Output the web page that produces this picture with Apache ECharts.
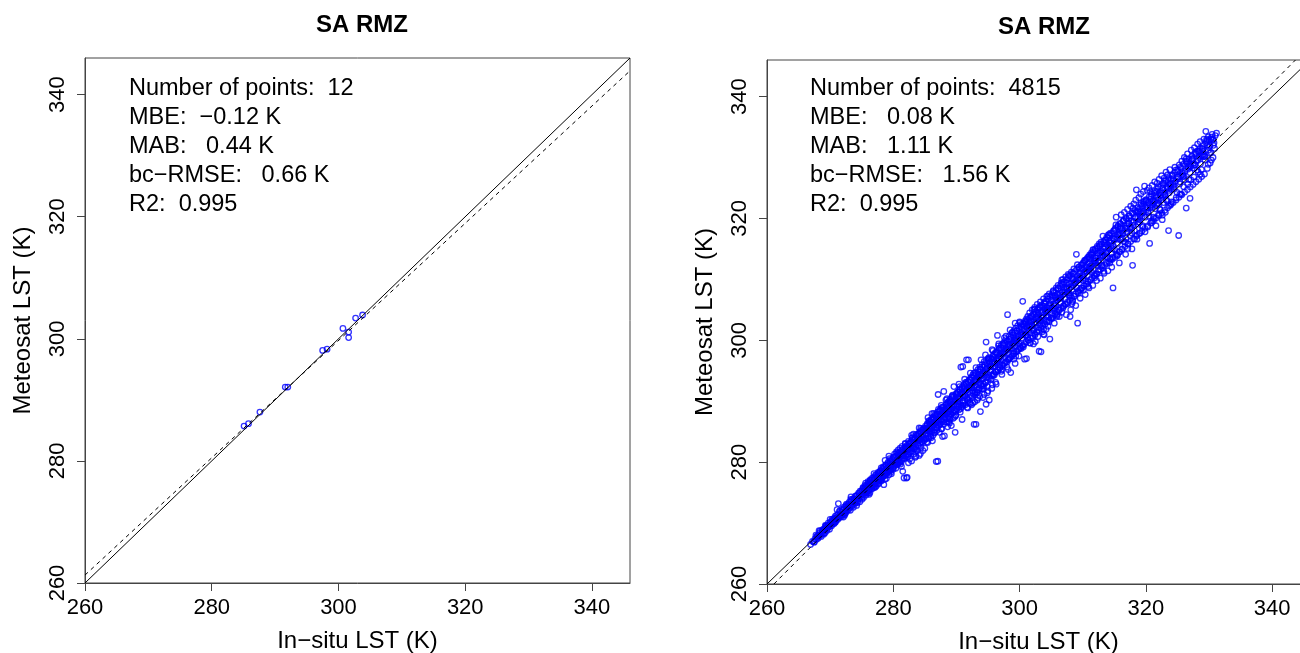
<!DOCTYPE html>
<html>
<head>
<meta charset="utf-8">
<script src="https://cdn.jsdelivr.net/npm/echarts@6/dist/echarts.min.js"></script>
</head>
<body style="margin:0;background:#fff">
<div id="main" style="width:1300px;height:653px;"></div>
<script type="text/javascript">
// axis range and tick labels (both panels)
var axisMin = 260, axisMax = 346;
var tickValues = [260, 280, 300, 320, 340];

// left panel: 12 matchups [in-situ, Meteosat]
var leftPoints = [
    [285.1, 285.7], [285.8, 286.1], [287.6, 288.0], [291.6, 292.1],
    [292.0, 292.1], [297.5, 298.1], [298.2, 298.3], [300.7, 301.7],
    [301.6, 301.1], [301.6, 300.2], [302.7, 303.4], [303.8, 303.9]
];
var leftStats = ['Number of points:  12', 'MBE:  \u22120.12 K', 'MAB:   0.44 K', 'bc\u2212RMSE:   0.66 K', 'R2:  0.995'];
var leftFit = [[260, 261.3], [346, 343.9]];

var rightCold = [
    [266.9,266.5],[267.2,267.0],[267.4,266.9],[267.6,267.4],[267.8,267.3],[268.0,267.9],[268.1,267.5],[268.3,268.0],
    [268.5,268.2],[268.6,267.8],[268.8,268.6],[268.9,268.3],[269.1,268.9],[269.2,268.4],[269.4,269.3],[269.5,268.8],
    [269.6,269.2],[269.8,269.6],[269.9,269.0],[270.0,270.1],[269.3,269.5],[268.4,268.7],[267.9,267.8],[269.7,270.0],
    [270.2,269.8],[270.3,270.6],[270.5,270.2],[270.6,269.9],[270.8,271.1],[270.9,270.4],[271.0,270.9],[271.2,270.6],
    [271.3,273.2],[271.4,271.0],[271.5,271.9],[271.6,271.2],[271.8,271.4],[271.9,272.3],[272.0,271.5],[272.1,271.0],
    [272.2,272.6],[272.4,272.0],[272.5,271.7],[272.6,273.1],[272.7,272.4],[272.9,272.2],[273.0,273.4],[273.1,272.8],
    [273.2,272.1],[273.4,273.0],[273.5,273.9],[273.6,273.2],[273.7,272.6],[273.9,273.5],[274.0,274.4],[274.1,273.7],
    [274.2,272.9],[274.4,274.0],[274.5,274.9],[274.6,274.2],[274.7,273.5],[274.9,274.6],[275.0,275.3],[271.1,272.2],
    [272.3,271.3],[273.3,274.3],[274.3,273.3],[270.7,270.5],[272.8,272.9],
    [275.1,274.7],[275.2,275.8],[275.3,274.2],[275.4,275.3],[275.5,276.2],[275.6,275.0],[275.7,274.6],[275.8,276.0],
    [275.9,275.5],[276.0,276.8],[276.1,275.3],[276.2,276.1],[276.3,275.0],[276.4,277.0],[276.5,276.2],[276.6,275.6],
    [276.7,277.4],[276.8,276.5],[276.9,275.8],[277.0,277.2],[277.1,276.4],[277.2,277.9],[277.3,276.1],[277.4,277.5],
    [277.5,276.9],[277.6,278.3],[277.7,276.5],[277.8,277.8],[277.9,277.2],[278.0,278.6],[278.1,276.9],[278.2,278.0],
    [278.3,277.5],[278.4,279.2],[278.5,276.3],[278.6,278.4],[278.7,277.8],[278.8,279.5],[278.9,277.3],[279.0,279.0],
    [279.1,278.4],[279.2,280.0],[279.3,277.9],[279.4,279.3],[279.5,278.6],[279.6,280.4],[279.7,278.1],[279.8,279.7],
    [279.9,279.0],[280.0,280.8],[275.5,275.6],[276.2,276.6],[276.9,277.0],[277.6,277.3],[278.3,278.5],[279.0,278.6],
    [279.6,279.5],[277.0,275.9],[278.0,277.0],[276.0,274.9],[279.3,281.0],[278.7,280.3]
];
var rightMild = [
    [280.1,279.4],[280.2,281.3],[280.3,280.1],[280.4,279.0],[280.5,281.7],[280.6,280.5],[280.7,279.6],[280.8,282.0],
    [280.9,280.8],[281.0,279.9],[281.1,282.3],[281.2,281.0],[281.3,280.1],[281.4,282.6],[281.5,278.5],[281.6,281.4],
    [281.7,277.4],[281.8,280.6],[281.9,283.0],[282.0,281.8],[282.1,277.4],[282.2,277.5],[282.3,280.9],[282.4,283.4],
    [282.5,282.1],[282.6,280.5],[282.7,283.1],[282.8,281.7],[282.9,280.2],[283.0,284.0],[283.1,282.6],[283.2,281.3],
    [283.3,283.7],[283.4,282.2],[283.5,280.8],[283.6,284.5],[283.7,283.2],[283.8,281.9],[283.9,284.1],[284.0,282.7],
    [284.1,281.1],[284.2,285.0],[284.3,283.8],[284.4,282.4],[284.5,285.3],[284.6,284.0],[284.7,281.9],[284.8,285.5],
    [284.9,283.5],[285.0,282.3],[280.5,280.0],[281.0,281.2],[281.5,281.7],[282.0,282.4],[282.5,282.9],[283.0,283.3],
    [283.5,283.8],[284.0,284.6],[284.5,284.3],[281.3,279.3],[282.4,279.9],[283.6,281.0],[284.3,281.4],[280.8,281.4],
    [281.9,282.2],[283.2,284.6],[284.1,285.6],[282.9,284.4],
    [285.1,285.9],[285.2,284.6],[285.3,283.3],[285.4,286.3],[285.5,285.1],[285.6,283.9],[285.7,286.7],[285.8,285.4],
    [285.9,284.2],[286.0,287.0],[286.1,285.9],[286.2,283.5],[286.3,287.4],[286.4,286.1],[286.5,284.8],[286.6,287.8],
    [286.7,286.4],[286.8,280.1],[286.9,285.2],[287.0,288.2],[287.1,291.1],[287.2,286.6],[287.3,284.9],[287.4,288.6],
    [287.5,287.0],[287.6,285.5],[287.7,289.0],[287.8,284.2],[287.9,287.5],[288.0,291.6],[288.1,284.3],[288.2,288.4],
    [288.3,286.6],[288.4,289.5],[288.5,287.9],[288.6,285.8],[288.7,289.9],[288.8,288.3],[288.9,286.4],[289.0,290.3],
    [289.1,288.7],[289.2,286.0],[289.3,290.7],[289.4,289.1],[289.5,287.2],[289.6,292.4],[289.7,289.5],[289.8,284.9],
    [289.9,287.7],[290.0,290.9],[285.3,285.4],[285.8,286.1],[286.3,286.5],[286.8,286.9],[287.3,287.5],[287.8,288.0],
    [288.3,288.5],[288.8,289.0],[289.3,289.4],[289.8,290.0],[285.5,287.3],[286.4,288.0],[287.6,289.3],[288.5,290.4],
    [289.4,291.0],[286.0,284.0],[287.0,285.6],[288.0,286.2],[289.0,287.0],[289.9,288.3],[285.9,286.6],[287.4,286.3],
    [288.9,288.2],[287.05,280.15],
    [290.1,289.2],[290.2,291.5],[290.3,290.4],[290.4,288.6],[290.5,291.9],[290.6,290.7],[290.7,295.6],[290.8,289.1],
    [290.9,292.3],[291.0,295.7],[291.1,290.0],[291.2,292.7],[291.3,291.5],[291.4,289.4],[291.5,293.1],[291.6,296.8],
    [291.7,291.9],[291.8,290.1],[291.9,296.8],[292.0,293.5],[292.1,292.3],[292.2,289.6],[292.3,293.9],[292.4,292.6],
    [292.5,290.8],[292.6,294.3],[292.7,293.0],[292.8,286.2],[292.9,291.3],[293.0,294.7],[293.1,286.2],[293.2,293.4],
    [293.3,291.4],[293.4,295.2],[293.5,293.8],[293.6,291.9],[293.7,295.6],[293.8,288.3],[293.9,294.2],[294.0,292.0],
    [294.1,296.0],[294.2,294.6],[294.3,292.5],[294.4,296.5],[294.5,294.9],[294.6,293.0],[294.7,299.7],[294.8,295.3],
    [294.9,292.4],[295.0,297.0],[290.5,290.6],[291.0,291.1],[291.5,291.7],[292.0,292.2],[292.5,292.7],[293.0,293.2],
    [293.5,293.6],[294.0,294.2],[294.5,294.7],[290.9,287.0],[291.7,289.0],[292.6,289.7],[293.3,290.2],[294.2,290.6],
    [294.7,289.5],[290.4,292.8],[291.3,293.6],[292.2,294.6],[293.1,295.5],[293.9,296.8],[294.6,297.6],[290.0,291.3],
    [292.9,292.6],[293.6,294.4]
];
var rightWarm = [
    [295.1,294.0],[295.2,290.2],[295.3,296.4],[295.4,295.2],[295.5,293.6],[295.6,296.9],[295.7,292.7],[295.8,295.7],
    [295.9,297.6],[296.0,294.3],[296.1,296.2],[296.2,298.0],[296.3,294.8],[296.4,296.6],[296.5,300.8],[296.6,295.1],
    [296.7,297.0],[296.8,298.7],[296.9,295.5],[297.0,297.4],[297.1,299.2],[297.2,294.4],[297.3,297.8],[297.4,295.9],
    [297.5,299.6],[297.6,298.1],[297.7,296.3],[297.8,300.1],[297.9,298.5],[298.0,295.6],[298.1,304.2],[298.2,298.9],
    [298.3,296.9],[298.4,300.7],[298.5,299.2],[298.6,294.7],[298.7,297.3],[298.8,301.2],[298.9,299.6],[299.0,297.8],
    [299.1,301.6],[299.2,300.0],[299.3,296.2],[299.4,302.0],[299.5,300.3],[299.6,298.2],[299.7,302.4],[299.8,300.7],
    [299.9,298.6],[300.0,303.0],[295.5,295.8],[296.0,296.3],[296.5,296.8],[297.0,297.3],[297.5,297.7],[298.0,298.4],
    [298.5,298.7],[299.0,299.3],[299.5,299.8],[295.8,298.3],[296.7,299.4],[297.6,300.4],[298.5,301.7],[299.3,302.8],
    [296.2,293.1],[297.1,294.9],[298.2,295.2],[299.1,296.9],[299.9,297.4],
    [300.1,299.0],[300.2,301.3],[300.3,302.6],[300.4,300.4],[300.5,306.4],[300.6,298.9],[300.7,301.8],[300.8,296.9],
    [300.9,303.2],[301.0,300.8],[301.1,297.0],[301.2,302.2],[301.3,303.9],[301.4,300.0],[301.5,302.6],[301.6,304.5],
    [301.7,299.5],[301.8,303.0],[301.9,301.2],[302.0,305.0],[302.1,300.4],[302.2,303.4],[302.3,301.7],[302.4,305.4],
    [302.5,299.8],[302.6,303.8],[302.7,302.1],[302.8,305.9],[302.9,300.6],[303.0,304.2],[303.1,298.2],[303.2,302.5],
    [303.3,306.3],[303.4,298.1],[303.5,304.6],[303.6,301.4],[303.7,302.9],[303.8,306.8],[303.9,300.9],[304.0,305.0],
    [304.1,303.3],[304.2,301.8],[304.3,307.2],[304.4,305.4],[304.5,302.3],[304.6,303.8],[304.7,307.6],[304.8,300.2],
    [304.9,305.8],[305.0,304.2],[300.5,300.9],[301.5,301.7],[302.5,302.8],[303.5,303.7],[304.5,304.8],[301.0,302.9],
    [302.0,303.9],[303.0,305.3],[304.0,306.2],[302.2,299.4],[303.8,301.0],
    [305.1,306.6],[305.2,303.6],[305.3,308.0],[305.4,305.2],[305.5,302.8],[305.6,307.2],[305.7,305.6],[305.8,308.6],
    [305.9,304.1],[306.0,306.6],[306.1,309.0],[306.2,305.0],[306.3,303.9],[306.4,307.5],[306.5,306.1],[306.6,309.4],
    [306.7,304.6],[306.8,307.9],[306.9,310.0],[307.0,305.7],[307.1,308.3],[307.2,306.8],[307.3,310.4],[307.4,304.2],
    [307.5,308.7],[307.6,306.0],[307.7,310.8],[307.8,307.4],[307.9,309.2],[308.0,303.9],[308.1,305.0],[308.2,311.2],
    [308.3,308.3],[308.4,306.6],[308.5,310.0],[308.6,311.7],[308.7,307.2],[308.8,309.5],[308.9,305.7],[309.0,314.1],
    [309.1,310.5],[309.2,302.8],[309.3,308.1],[309.4,312.0],[309.5,309.9],[309.6,306.9],[309.7,311.3],[309.8,308.6],
    [309.9,312.4],[310.0,310.6],[305.5,305.9],[306.5,307.0],[307.5,307.9],[308.5,309.0],[309.5,310.3],[306.0,304.3],
    [308.3,306.0]
];
var rightHot = [
    [310.1,308.2],[310.2,312.8],[310.3,310.9],[310.4,307.5],[310.5,313.2],[310.6,311.4],[310.7,309.2],[310.8,313.6],
    [310.9,311.8],[311.0,308.6],[311.1,314.0],[311.2,312.2],[311.3,310.0],[311.4,314.4],[311.5,312.6],[311.6,309.0],
    [311.7,314.8],[311.8,313.1],[311.9,310.8],[312.0,315.0],[312.1,313.5],[312.2,309.8],[312.3,315.4],[312.4,313.9],
    [312.5,311.6],[312.6,315.8],[312.7,314.3],[312.8,310.2],[312.9,316.1],[313.0,314.6],[313.1,312.3],[313.2,317.1],
    [313.3,315.0],[313.4,311.0],[313.5,316.4],[313.6,315.3],[313.7,312.8],[313.8,316.9],[313.9,315.7],[314.0,311.4],
    [314.1,317.3],[314.2,316.0],[314.3,313.4],[314.4,317.6],[314.5,316.4],[314.6,312.0],[314.7,315.0],[314.8,308.6],
    [314.9,318.0],[315.0,316.6],[311.0,311.9],[312.0,313.0],[313.0,313.8],[314.0,315.2],
    [315.1,313.6],[315.2,318.4],[315.3,320.2],[315.4,316.9],[315.5,314.0],[315.6,318.8],[315.7,317.2],[315.8,312.7],
    [315.9,319.2],[316.0,317.6],[316.1,320.6],[316.2,314.9],[316.3,318.0],[316.4,319.6],[316.5,316.2],[316.6,321.0],
    [316.7,318.4],[316.8,314.1],[316.9,320.0],[317.0,318.8],[317.1,321.5],[317.2,315.8],[317.3,319.2],[317.4,320.4],
    [317.5,317.2],[317.6,322.0],[317.7,319.6],[317.8,315.0],[317.9,312.3],[318.0,320.8],[318.1,322.4],[318.2,318.0],
    [318.3,320.2],[318.4,323.0],[318.5,324.7],[318.6,316.6],[318.7,321.2],[318.8,319.4],[318.9,323.4],[319.0,321.6],
    [319.1,317.6],[319.2,324.0],[319.3,320.8],[319.4,322.0],[319.5,318.6],[319.6,324.4],[319.7,322.4],[319.8,325.3],
    [319.9,320.2],[320.0,323.0],[316.0,316.5],[317.0,317.8],[318.0,318.9],[319.0,319.8],
    [320.1,321.4],[320.2,324.6],[320.3,318.6],[320.4,322.6],[320.5,325.0],[320.6,315.9],[320.7,321.8],[320.8,323.6],
    [320.9,319.6],[321.0,325.4],[321.1,322.4],[321.2,320.2],[321.3,324.2],[321.4,326.0],[321.5,321.6],[321.6,318.8],
    [321.7,323.4],[321.8,325.8],[321.9,322.6],[322.0,320.6],[322.1,326.4],[322.2,324.2],[322.3,321.4],[322.4,323.0],
    [322.5,327.0],[322.6,319.8],[322.7,325.0],[322.8,322.6],[322.9,326.6],[323.0,324.0],[323.1,321.0],[323.2,327.6],
    [323.3,325.2],[323.4,322.8],[323.5,326.4],[323.6,318.0],[323.7,324.6],[323.8,328.0],[323.9,325.6],[324.0,322.4],
    [324.2,327.0],[324.4,325.2],[324.6,328.4],[324.8,323.4],[325.0,326.8],[321.0,321.8],[322.0,323.0],[323.0,323.8],
    [324.0,324.8],
    [325.2,317.2],[325.3,328.8],[325.4,326.0],[325.6,324.0],[325.7,329.4],[325.8,327.2],[326.0,325.2],[326.1,330.0],
    [326.2,327.8],[326.4,321.7],[326.5,329.0],[326.6,330.6],[326.8,326.4],[327.0,323.3],[327.1,328.6],[327.2,331.2],
    [327.4,329.8],[327.6,326.8],[327.7,331.6],[327.8,328.8],[328.0,330.6],[328.2,332.2],[328.3,327.6],[328.5,331.0],
    [328.6,332.6],[328.8,328.0],[329.0,331.4],[329.2,333.0],[329.3,330.2],[329.5,334.3],[329.7,332.0],[329.9,333.4],
    [330.1,330.7],[330.3,333.0],[330.5,333.8],[330.8,332.4],[331.0,333.6],[331.2,334.0],[326.9,329.0],[328.9,330.4]
];
// dense core of the cloud, where the circles overlap into solid blue
var rightCore = [
    [268.15,267.72],[268.37,268.41],[268.72,268.35],[268.94,269.02],[269.23,268.77],[269.41,269.58],[269.67,269.31],[269.88,269.71],
    [270.04,269.52],[270.26,270.33],[270.41,269.94],[270.63,270.78],[270.85,270.17],[271.07,270.72],[271.22,271.41],[271.48,270.86],
    [271.66,271.79],[271.83,271.07],[272.06,272.18],[272.28,271.64],[272.47,272.71],[272.69,272.03],[272.91,273.12],[273.08,272.49],
    [273.29,273.58],[273.52,272.91],[273.74,274.05],[273.96,273.27],[274.18,274.49],[274.35,273.62],[274.57,274.83],[274.79,274.11],
    [274.98,275.27],
    [275.14,274.38],[275.31,275.62],[275.47,274.91],[275.66,276.12],[275.82,275.13],[275.97,276.48],[276.13,275.41],[276.29,276.83],
    [276.44,275.92],[276.61,277.10],[276.78,276.07],[276.93,277.46],[277.09,276.52],[277.24,277.81],[277.42,276.63],[277.58,278.04],
    [277.73,277.12],[277.91,278.47],[278.06,277.38],[278.22,278.79],[278.39,277.72],[278.55,279.11],[278.71,277.91],[278.88,279.37],
    [279.03,278.26],[279.19,279.84],[279.36,278.55],[279.52,280.09],[279.68,278.82],[279.84,280.41],[280.01,279.14],[280.17,280.86],
    [280.33,279.51],[280.49,281.03],[280.66,279.77],[280.82,281.42],[280.97,280.08],[281.14,281.69],[281.31,280.36],[281.46,282.02],
    [281.62,280.64],[281.79,282.37],[281.95,281.03],[282.11,282.71],[282.27,281.22],[282.44,282.96],[282.60,281.58],[282.76,283.31],
    [282.93,281.84],[283.09,283.70],[283.25,282.19],[283.41,283.96],[283.58,282.47],[283.74,284.28],[283.90,282.81],[284.06,284.67],
    [284.23,283.12],[284.39,284.94],[284.55,283.37],[284.71,285.31],[284.88,283.71],
    [275.9,275.7],[276.7,276.6],[277.5,277.2],[278.3,278.2],[279.1,279.0],[279.9,279.6],[280.7,280.5],[281.5,281.1],
    [282.3,282.0],[283.1,282.8],[283.9,283.5],[284.7,284.4],[276.35,276.2],[277.85,277.6],[279.45,279.3],[280.95,280.8],
    [282.55,282.3],[284.15,283.9],
    [285.07,285.62],[285.23,283.89],[285.38,286.14],[285.54,284.35],[285.71,286.47],[285.86,284.61],[286.02,286.93],[286.18,285.02],
    [286.35,287.21],[286.50,285.33],[286.66,287.62],[286.83,285.71],[286.99,287.90],[287.15,285.98],[287.31,288.37],[287.47,286.25],
    [287.64,288.61],[287.80,286.64],[287.96,289.02],[288.12,286.97],[288.28,289.33],[288.45,287.18],[288.61,289.72],[288.77,287.55],
    [288.93,290.04],[289.09,287.86],[289.26,290.41],[289.42,288.13],[289.58,290.77],[289.74,288.49],[289.90,291.08],[290.07,288.71],
    [290.23,291.46],[290.39,289.10],[290.55,291.80],[290.71,289.36],[290.88,292.11],[291.04,289.68],[291.20,292.52],[291.36,289.97],
    [291.52,292.83],[291.69,290.31],[291.85,293.17],[292.01,290.64],[292.17,293.52],[292.33,290.92],[292.50,293.86],[292.66,291.27],
    [292.82,294.18],[292.98,291.53],[293.14,294.55],[293.31,291.88],[293.47,294.87],[293.63,292.16],[293.79,295.21],[293.95,292.49],
    [294.12,295.58],[294.28,292.81],[294.44,295.90],[294.60,293.12],[294.77,296.24],[294.93,293.44],
    [285.4,285.3],[286.1,286.2],[286.8,286.6],[287.5,287.6],[288.2,288.0],[288.9,289.1],[289.6,289.4],[290.3,290.5],
    [291.0,290.8],[291.7,291.9],[292.4,292.2],[293.1,293.3],[293.8,293.6],[294.5,294.6],[285.75,285.0],[286.45,287.0],
    [287.15,286.9],[287.85,288.5],[288.55,288.1],[289.25,289.9],[289.95,289.5],[290.65,291.2],[291.35,290.9],[292.05,292.6],
    [292.75,292.3],[293.45,294.0],[294.15,293.7],[294.85,295.4],
    [291.8,288.9],[292.9,289.9],[293.7,290.8],[294.4,291.1],[295.0,291.7],[295.6,292.1],[296.3,292.8],[292.4,289.4],
    [293.4,290.5],[294.9,291.4],[290.6,288.2],[289.7,287.4],[288.8,286.6],
    [295.09,296.62],[295.25,293.77],[295.41,297.01],[295.57,294.21],[295.74,297.35],[295.90,294.52],[296.06,297.72],[296.22,294.86],
    [296.38,298.03],[296.55,295.19],[296.71,298.44],[296.87,295.50],[297.03,298.76],[297.19,295.87],[297.36,299.13],[297.52,296.18],
    [297.68,299.45],[297.84,296.51],[298.00,299.84],[298.17,296.83],[298.33,300.15],[298.49,297.14],[298.65,300.52],[298.81,297.49],
    [298.98,300.84],[299.14,297.80],[299.30,301.21],[299.46,298.13],[299.62,301.53],[299.79,298.45],[299.95,301.92],[300.11,298.77],
    [300.27,302.23],[300.43,299.10],[300.60,302.61],[300.76,299.42],[300.92,302.94],[301.08,299.73],[301.24,303.31],[301.41,300.07],
    [301.57,303.62],[301.73,300.39],[301.89,304.01],[302.05,300.71],[302.22,304.33],[302.38,301.02],[302.54,304.70],[302.70,301.36],
    [302.86,305.02],[303.03,301.68],[303.19,305.39],[303.35,302.01],[303.51,305.71],[303.67,302.33],[303.84,306.08],[304.00,302.64],
    [304.16,306.41],[304.32,302.97],[304.48,306.77],[304.65,303.29],[304.81,307.10],[304.97,303.62],
    [295.3,295.6],[296.0,296.5],[296.7,297.0],[297.4,297.9],[298.1,298.4],[298.8,299.4],[299.5,299.9],[300.2,300.8],
    [300.9,301.3],[301.6,302.2],[302.3,302.7],[303.0,303.6],[303.7,304.1],[304.4,305.0],[295.65,296.2],[296.35,296.9],
    [297.05,297.8],[297.75,298.2],[298.45,299.2],[299.15,299.6],[299.85,300.7],[300.55,301.0],[301.25,302.0],[301.95,302.5],
    [302.65,303.5],[303.35,303.9],[304.05,304.9],[304.75,305.3],
    [305.13,307.48],[305.30,303.91],[305.46,307.82],[305.62,304.27],[305.79,308.19],[305.95,304.58],[306.11,308.51],[306.28,304.93],
    [306.44,308.88],[306.60,305.24],[306.77,309.20],[306.93,305.59],[307.09,309.57],[307.26,305.91],[307.42,309.90],[307.58,306.26],
    [307.75,310.26],[307.91,306.57],[308.07,310.59],[308.24,306.93],[308.40,310.96],[308.56,307.24],[308.73,311.28],[308.89,307.60],
    [309.05,311.65],[309.22,307.91],[309.38,311.97],[309.54,308.27],[309.71,312.34],[309.87,308.58],[310.03,312.66],[310.20,308.94],
    [310.36,313.03],[310.52,309.25],[310.69,313.35],[310.85,309.61],[311.01,313.72],[311.18,309.92],[311.34,314.04],[311.50,310.28],
    [311.67,314.41],[311.83,310.59],[311.99,314.73],[312.16,310.95],[312.32,315.10],[312.48,311.26],[312.65,315.42],[312.81,311.62],
    [312.97,315.79],[313.14,311.93],[313.30,316.11],[313.46,312.29],[313.63,316.48],[313.79,312.60],[313.95,316.80],[314.12,312.96],
    [314.28,317.17],[314.44,313.27],[314.61,317.49],[314.77,313.63],[314.93,317.86],
    [305.4,306.0],[306.1,306.9],[306.8,307.4],[307.5,308.4],[308.2,308.8],[308.9,309.8],[309.6,310.2],[310.3,311.2],
    [311.0,311.6],[311.7,312.6],[312.4,313.0],[313.1,314.0],[313.8,314.4],[314.5,315.4],[305.75,306.6],[306.45,307.2],
    [307.15,308.0],[307.85,308.5],[308.55,309.4],[309.25,309.9],[309.95,310.8],[310.65,311.3],[311.35,312.2],[312.05,312.7],
    [312.75,313.6],[313.45,314.1],[314.15,315.0],[314.85,315.5],
    [315.12,318.21],[315.34,314.12],[315.57,318.64],[315.79,314.53],[316.02,319.10],[316.24,314.97],[316.47,319.52],[316.69,315.38],
    [316.92,319.98],[317.14,315.82],[317.37,320.41],[317.59,316.23],[317.82,320.87],[318.04,316.67],[318.27,321.30],[318.49,317.08],
    [318.72,321.76],[318.94,317.52],[319.17,322.19],[319.39,317.93],[319.62,322.65],[319.84,318.37],[320.07,323.08],[320.29,318.78],
    [320.52,323.54],[320.74,319.22],[320.97,323.97],[321.19,319.63],[321.42,324.43],[321.64,320.07],[321.87,324.86],[322.09,320.48],
    [322.32,325.32],[322.54,320.92],[322.77,325.75],[322.99,321.33],[323.22,326.21],[323.44,321.77],[323.67,326.64],[323.89,322.18],
    [324.12,327.10],[324.34,322.62],[324.57,327.53],[324.79,323.03],[325.02,327.99],[325.24,323.47],[325.47,328.42],[325.69,323.88],
    [325.92,328.88],[326.14,324.32],[326.37,329.31],[326.59,324.73],[326.82,329.77],[327.04,325.17],[327.27,330.20],[327.49,325.58],
    [327.72,330.66],[327.94,326.02],[328.17,331.09],[328.39,326.43],[328.62,331.55],[328.84,326.87],[329.07,331.98],[329.29,327.28],
    [329.52,332.44],[329.74,328.20],[329.97,332.87],[330.19,329.10],[330.42,333.33],[330.64,330.00],
    [315.5,316.6],[316.3,317.6],[317.1,318.3],[317.9,319.3],[318.7,320.0],[319.5,320.9],[320.3,321.7],[321.1,322.6],
    [321.9,323.3],[322.7,324.2],[323.5,324.9],[324.3,325.8],[325.1,326.5],[325.9,327.4],[326.7,328.1],[327.5,329.0],
    [328.3,329.6],[329.1,330.5],[329.9,331.2],[330.7,332.0],[315.9,317.4],[317.5,318.6],[319.1,320.4],[320.7,322.1],
    [322.3,323.8],[323.9,325.3],[325.5,327.0],[327.1,328.5],[328.7,330.2]
];
// extra points filling the inside of the band
var rightFill = [
    [267.50,266.86],[267.75,268.01],[268.00,267.78],[268.25,268.75],[268.50,268.04],[268.75,268.83],[269.00,268.18],[269.25,269.63],
    [269.50,269.40],[269.75,269.41],[270.00,270.62],[270.25,269.55],[270.50,270.64],[270.75,270.11],[271.00,271.26],[271.25,271.03],
    [271.50,272.00],[271.75,271.29],[272.00,272.08],[272.25,271.43],[272.50,272.88],[272.75,272.65],[273.00,272.66],[273.25,273.87],
    [273.50,272.80],[273.75,273.89],[274.00,273.36],[274.25,274.51],[274.50,274.28],[274.75,275.25],
    [275.05,273.91],[275.24,275.75],[275.43,275.06],[275.62,276.57],[275.81,275.00],[276.00,276.18],[276.19,274.72],[276.38,277.11],
    [276.57,276.42],[276.76,276.17],[276.95,278.12],[277.14,275.89],[277.33,277.62],[277.52,276.38],[277.71,278.22],[277.90,277.53],
    [278.09,279.04],[278.28,277.47],[278.47,278.65],[278.66,277.19],[278.85,279.58],[279.04,278.89],[279.23,278.64],[279.42,280.59],
    [279.61,278.36],[279.80,280.09],[279.99,278.85],[280.18,280.69],[280.37,280.00],[280.56,281.51],[280.75,279.94],[280.94,281.12],
    [281.13,279.66],[281.32,282.05],[281.51,281.36],[281.70,281.11],[281.89,283.06],[282.08,280.83],[282.27,282.56],[282.46,281.32],
    [282.65,283.16],[282.84,282.47],[283.03,283.98],[283.22,282.41],[283.41,283.59],[283.60,282.13],[283.79,284.52],[283.98,283.83],
    [284.17,283.58],[284.36,285.53],[284.55,283.30],[284.74,285.03],[284.93,283.79],
    [285.11,283.89],[285.28,285.59],[285.45,283.21],[285.62,286.78],[285.79,285.59],[285.96,285.08],[286.13,287.97],[286.30,284.40],
    [286.47,286.95],[286.64,284.91],[286.81,287.63],[286.98,286.44],[287.15,288.65],[287.32,286.10],[287.49,287.80],[287.66,285.42],
    [287.83,288.99],[288.00,287.80],[288.17,287.29],[288.34,290.18],[288.51,286.61],[288.68,289.16],[288.85,287.12],[289.02,289.84],
    [289.19,288.65],[289.36,290.86],[289.53,288.31],[289.70,290.01],[289.87,287.63],[290.04,291.20],[290.21,290.01],[290.38,289.50],
    [290.55,292.39],[290.72,288.82],[290.89,291.37],[291.06,289.33],[291.23,292.05],[291.40,290.86],[291.57,293.07],[291.74,290.52],
    [291.91,292.22],[292.08,289.84],[292.25,293.41],[292.42,292.22],[292.59,291.71],[292.76,294.60],[292.93,291.03],[293.10,293.58],
    [293.27,291.54],[293.44,294.26],[293.61,293.07],[293.78,295.28],[293.95,292.73],[294.12,294.43],[294.29,292.05],[294.46,295.62],
    [294.63,294.43],[294.80,293.92],[294.97,296.81],
    [295.14,297.14],[295.31,295.71],[295.48,295.08],[295.65,298.45],[295.82,294.22],[295.99,297.19],[296.16,294.76],[296.33,297.93],
    [296.50,296.50],[296.67,299.07],[296.84,296.04],[297.01,298.01],[297.18,295.18],[297.35,299.35],[297.52,297.92],[297.69,297.29],
    [297.86,300.66],[298.03,296.43],[298.20,299.40],[298.37,296.97],[298.54,300.14],[298.71,298.71],[298.88,301.28],[299.05,298.25],
    [299.22,300.22],[299.39,297.39],[299.56,301.56],[299.73,300.13],[299.90,299.50],[300.07,302.87],[300.24,298.64],[300.41,301.61],
    [300.58,299.18],[300.75,302.35],[300.92,300.92],[301.09,303.49],[301.26,300.46],[301.43,302.43],[301.60,299.60],[301.77,303.77],
    [301.94,302.34],[302.11,301.71],[302.28,305.08],[302.45,300.85],[302.62,303.82],[302.79,301.39],[302.96,304.56],[303.13,303.13],
    [303.30,305.70],[303.47,302.67],[303.64,304.64],[303.81,301.81],[303.98,305.98],[304.15,304.55],[304.32,303.92],[304.49,307.29],
    [304.66,303.06],[304.83,306.03],[305.00,303.60],
    [305.17,305.33],[305.36,308.16],[305.55,304.83],[305.74,307.00],[305.93,303.89],[306.12,308.48],[306.31,306.91],[306.50,306.22],
    [306.69,309.93],[306.88,305.28],[307.07,308.55],[307.26,305.88],[307.45,309.37],[307.64,307.80],[307.83,310.63],[308.02,307.30],
    [308.21,309.47],[308.40,306.36],[308.59,310.95],[308.78,309.38],[308.97,308.69],[309.16,312.40],[309.35,307.75],[309.54,311.02],
    [309.73,308.35],[309.92,311.84],[310.11,310.27],[310.30,313.10],[310.49,309.77],[310.68,311.94],[310.87,308.83],[311.06,313.42],
    [311.25,311.85],[311.44,311.16],[311.63,314.87],[311.82,310.22],[312.01,313.49],[312.20,310.82],[312.39,314.31],[312.58,312.74],
    [312.77,315.57],[312.96,312.24],[313.15,314.41],[313.34,311.30],[313.53,315.89],[313.72,314.32],[313.91,313.63],[314.10,317.34],
    [314.29,312.69],[314.48,315.96],[314.67,313.29],[314.86,316.78],
    [315.05,314.89],[315.26,318.94],[315.47,313.87],[315.68,317.44],[315.89,314.53],[316.10,318.34],[316.31,316.63],[316.52,319.72],
    [316.73,316.09],[316.94,318.46],[317.15,315.07],[317.36,320.08],[317.57,318.37],[317.78,317.62],[317.99,321.67],[318.20,316.60],
    [318.41,320.17],[318.62,317.26],[318.83,321.07],[319.04,319.36],[319.25,322.45],[319.46,318.82],[319.67,321.19],[319.88,317.80],
    [320.09,322.81],[320.30,321.10],[320.51,320.35],[320.72,324.40],[320.93,319.33],[321.14,322.90],[321.35,319.99],[321.56,323.80],
    [321.77,322.09],[321.98,325.18],[322.19,321.55],[322.40,323.92],[322.61,320.53],[322.82,325.54],[323.03,323.83],[323.24,323.08],
    [323.45,327.13],[323.66,322.06],[323.87,325.63],[324.08,322.72],[324.29,326.53],[324.50,324.82],[324.71,327.91],[324.92,324.28],
    [325.13,326.73],[325.38,323.98],[325.63,328.23],[325.88,326.88],[326.13,326.33],[326.38,329.78],[326.63,325.63],[326.88,328.68],
    [327.13,326.33],[327.38,329.58],[327.63,328.23],[327.88,330.88],[328.13,327.93],[328.38,329.98],[328.63,327.23],[328.88,331.48],
    [329.13,330.13],[329.38,329.58],[329.63,333.03],[329.88,328.88],[330.13,331.93],[330.38,329.58],[330.63,332.83],[330.88,331.48]
];
// middle of the band in the warm half, where the cloud sits above the 1:1 line
var rightMid = [
    [300.2,301.1],[300.65,302.75],[301.1,300.8],[301.55,303.05],[302.0,302.4],[302.45,305.05],[302.9,304.0],[303.35,303.25],
    [303.8,305.6],[304.25,304.85],[304.7,305.6],[305.15,307.25],[305.6,305.3],[306.05,307.55],[306.5,306.9],[306.95,309.55],
    [307.4,308.5],[307.85,307.75],[308.3,310.1],[308.75,309.35],[309.2,310.1],[309.65,311.75],[310.1,309.8],[310.55,312.05],
    [311.0,311.4],[311.45,314.05],[311.9,313.0],[312.35,312.25],[312.8,314.6],[313.25,313.85],[313.7,314.6],[314.15,316.25],
    [314.6,314.3],[315.05,316.55],[315.5,315.9],[315.95,318.55],[316.4,317.5],[316.85,316.75],[317.3,319.1],[317.75,318.35],
    [318.1,319.5],[318.43,321.13],[318.76,319.06],[319.09,321.09],[319.42,320.32],[319.75,322.85],[320.08,321.78],[320.41,320.91],
    [320.74,323.14],[321.07,322.17],[321.4,322.8],[321.73,324.43],[322.06,322.36],[322.39,324.39],[322.72,323.62],[323.05,326.15],
    [323.38,325.08],[323.71,324.21],[324.04,326.44],[324.37,325.47],[324.7,326.1],[325.03,327.73],[325.36,325.66],[325.69,327.69],
    [326.02,326.92],[326.35,329.45],[326.68,328.38],[327.01,327.51],[327.34,329.74],[327.67,328.77],[328.0,329.4],[328.33,331.03],
    [328.66,328.96],[328.99,330.99],[329.32,330.22],[329.65,332.75],[329.98,331.68],[330.31,330.81],[330.64,333.04]
];
var rightStats = ['Number of points:  4815', 'MBE:   0.08 K', 'MAB:   1.11 K', 'bc\u2212RMSE:   1.56 K', 'R2:  0.995'];
var rightFit = [[261.1, 260], [343.7, 346]];

var identityLine = [[axisMin, axisMin], [axisMax, axisMax]];
var rightPoints = rightCold.concat(rightMild, rightWarm, rightHot, rightCore, rightFill, rightMid);

var textFont = "'Liberation Sans', Arial, Helvetica, sans-serif";
var axisColor = '#444';

function makeX(gridIndex) {
    return {
        type: 'value', gridIndex: gridIndex, min: axisMin, max: axisMax,
        name: 'In\u2212situ LST (K)', nameLocation: 'middle', nameGap: 46,
        nameTextStyle: { fontSize: 24, color: '#000', fontFamily: textFont },
        splitLine: { show: false },
        axisLine: { show: true, lineStyle: { color: axisColor, width: 1 } },
        axisTick: { show: true, length: 8, customValues: tickValues, lineStyle: { color: axisColor } },
        axisLabel: { customValues: tickValues, margin: 14, fontSize: 22, color: '#000', fontFamily: textFont }
    };
}
function makeY(gridIndex) {
    return {
        type: 'value', gridIndex: gridIndex, min: axisMin, max: axisMax,
        name: 'Meteosat LST (K)', nameLocation: 'middle', nameGap: 50, nameRotate: 90,
        nameTextStyle: { fontSize: 24, color: '#000', fontFamily: textFont },
        splitLine: { show: false },
        axisLine: { show: true, lineStyle: { color: axisColor, width: 1 } },
        axisTick: { show: true, length: 8, customValues: tickValues, lineStyle: { color: axisColor } },
        axisLabel: { customValues: tickValues, rotate: 90, margin: 16, fontSize: 22, color: '#000', fontFamily: textFont }
    };
}
function statsText(x, lines) {
    return {
        type: 'text', x: x, y: 74, z: 10,
        style: { text: lines.join('\n'), font: '23.5px ' + textFont, lineHeight: 29, fill: '#000', verticalAlign: 'top' }
    };
}
function scatter(idx, data) {
    return {
        type: 'scatter', xAxisIndex: idx, yAxisIndex: idx, data: data,
        symbol: 'circle', symbolSize: 5.5,
        itemStyle: { color: 'rgba(0,0,0,0)', borderColor: '#0000ff', borderWidth: 1.3 },
        emphasis: { disabled: true }
    };
}
function line(idx, data, type) {
    return {
        type: 'line', xAxisIndex: idx, yAxisIndex: idx, data: data, showSymbol: false, z: 5,
        clip: true, lineStyle: { color: '#000', width: 1, type: type }, emphasis: { disabled: true }
    };
}

var option = {
    animation: false,
    backgroundColor: '#fff',
    title: [
        { text: 'SA RMZ', left: 357, top: 8, textAlign: 'center',
          textStyle: { fontSize: 24, fontWeight: 'bold', color: '#000', fontFamily: textFont } },
        { text: 'SA RMZ', left: 1039, top: 10, textAlign: 'center',
          textStyle: { fontSize: 24, fontWeight: 'bold', color: '#000', fontFamily: textFont } }
    ],
    grid: [
        { left: 85, top: 58, width: 545, height: 525, outerBoundsMode: 'none', containLabel: false,
          show: true, borderColor: axisColor, borderWidth: 1, backgroundColor: 'rgba(0,0,0,0)' },
        { left: 767, top: 60, width: 543, height: 524, outerBoundsMode: 'none', containLabel: false,
          show: true, borderColor: axisColor, borderWidth: 1, backgroundColor: 'rgba(0,0,0,0)' }
    ],
    xAxis: [makeX(0), makeX(1)],
    yAxis: [makeY(0), makeY(1)],
    graphic: [statsText(129, leftStats), statsText(810, rightStats)],
    series: [
        scatter(0, leftPoints),
        line(0, identityLine, 'solid'),
        line(0, leftFit, [4, 4]),
        scatter(1, rightPoints),
        line(1, identityLine, 'solid'),
        line(1, rightFit, [4, 4])
    ]
};

var myChart = echarts.init(document.getElementById('main'));
myChart.setOption(option);
</script>
</body>
</html>
